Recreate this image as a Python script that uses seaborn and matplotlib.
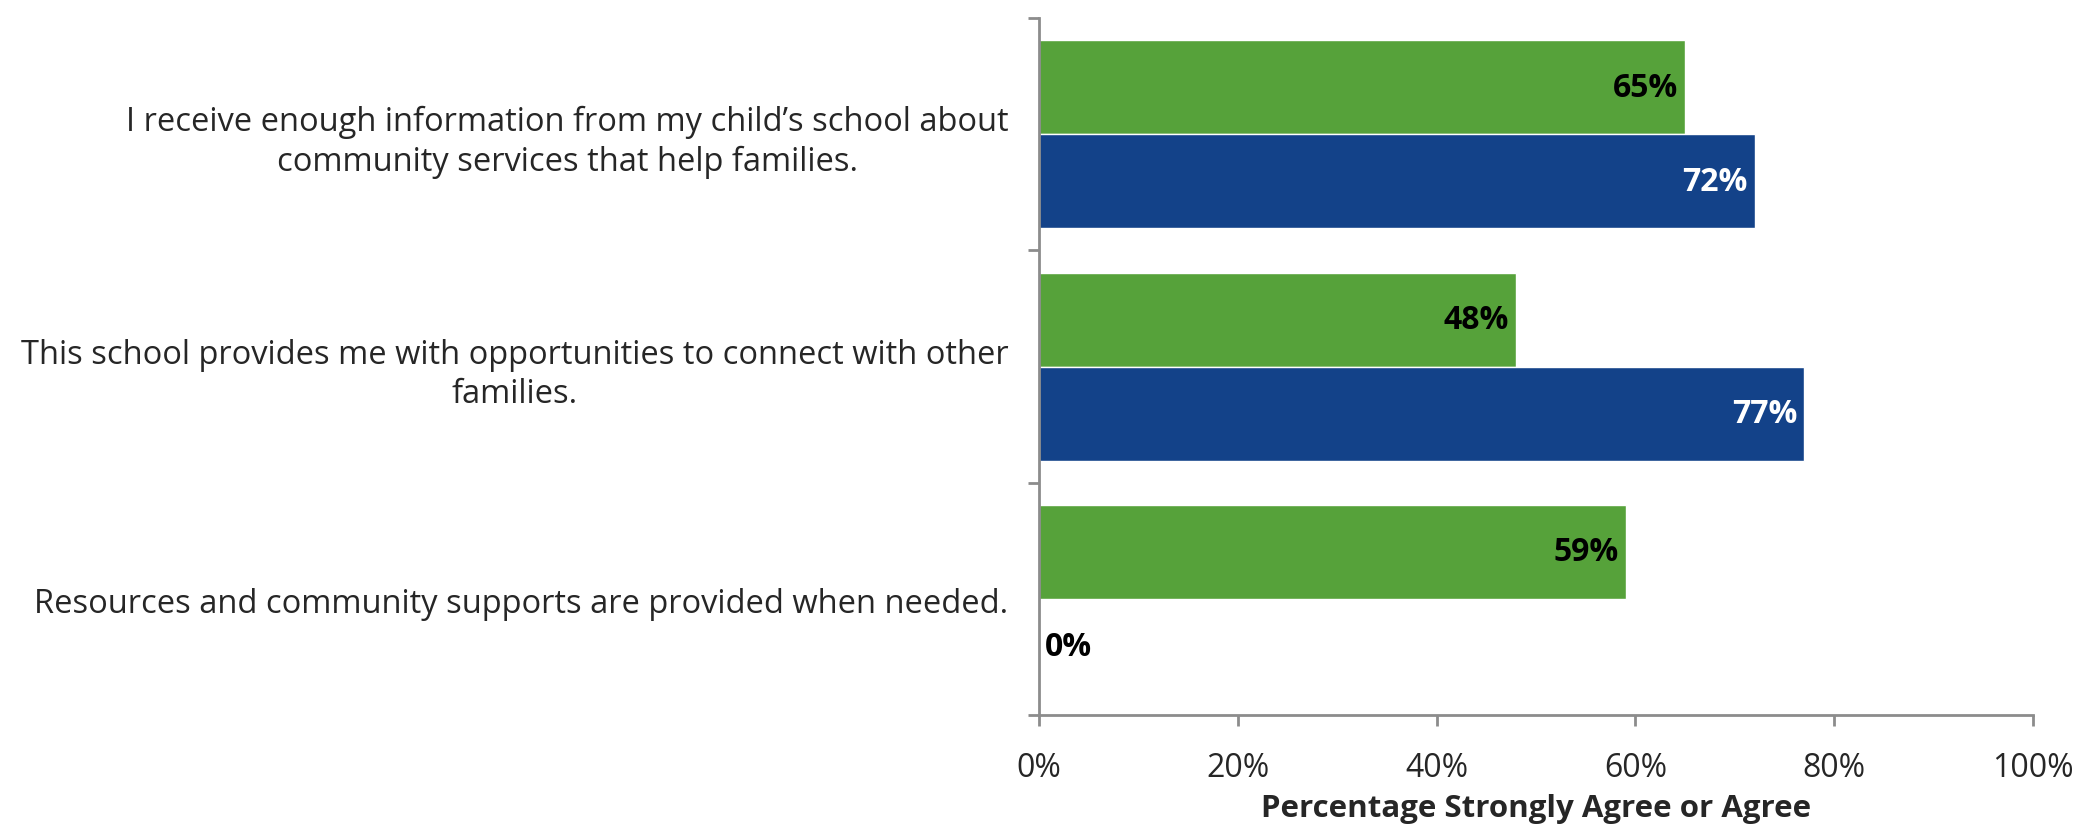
import pandas as pd
import matplotlib.pyplot as plt
import seaborn as sns

# survey items, top to bottom
questions = [
    "I receive enough information from my child\u2019s school about\ncommunity services that help families.",
    "This school provides me with opportunities to connect with other\nfamilies.",
    "Resources and community supports are provided when needed.",
]
series_names = ["Series 1", "Series 2"]
series1 = [65, 48, 59]
series2 = [72, 77, 0]

green = "#56A23A"
blue = "#134289"
grey = "#8C8C8C"

df = pd.DataFrame({
    "question": questions * 2,
    "series": [series_names[0]] * 3 + [series_names[1]] * 3,
    "pct": series1 + series2,
})

sns.set_style("white")
plt.rcParams["font.family"] = ["Open Sans", "DejaVu Sans"]
fs = 23

fig = plt.figure(figsize=(20.97, 8.28), dpi=100)
ax = fig.add_axes([0.4955, 0.135, 0.474, 0.842])

sns.barplot(data=df, x="pct", y="question", hue="series", orient="h",
            palette=[green, blue], width=0.81, saturation=1, legend=False, ax=ax)

# value labels at the inside end of each bar
for cont, txtcol in zip(ax.containers, ["black", "white"]):
    for p in cont:
        w = p.get_width()
        yc = p.get_y() + p.get_height() / 2
        if w > 0:
            ax.annotate(f"{w:.0f}%", (w, yc), xytext=(-5, 0), textcoords="offset points",
                        ha="right", va="center", fontsize=fs, fontweight="bold", color=txtcol)
        else:
            ax.annotate(f"{w:.0f}%", (w, yc), xytext=(4, 0), textcoords="offset points",
                        ha="left", va="center", fontsize=fs, fontweight="bold", color="black")

ax.set_xlim(0, 100)
ax.set_ylim(2.5, -0.5)
ax.set_xticks(range(0, 101, 20))
ax.set_xticklabels([f"{t}%" for t in range(0, 101, 20)], fontsize=fs)
ax.set_yticks(range(3))
ax.set_yticklabels(questions, fontsize=23.5, ha="right", multialignment="center", linespacing=1.26)
ax.set_yticks([-0.5, 0.5, 1.5, 2.5], minor=True)
ax.tick_params(axis="y", which="major", length=0, pad=22)
ax.tick_params(axis="y", which="minor", length=8, width=2, color=grey, direction="out", left=True)
ax.tick_params(axis="x", length=8, width=2, color=grey, direction="out", bottom=True, pad=18)
ax.set_xlabel("Percentage Strongly Agree or Agree", fontsize=22.5, fontweight="bold", labelpad=6)
ax.set_ylabel("")

for s in ["top", "right"]:
    ax.spines[s].set_visible(False)
for s in ["left", "bottom"]:
    ax.spines[s].set_color(grey)
    ax.spines[s].set_linewidth(2)

fig.savefig("out.png", dpi=100)
